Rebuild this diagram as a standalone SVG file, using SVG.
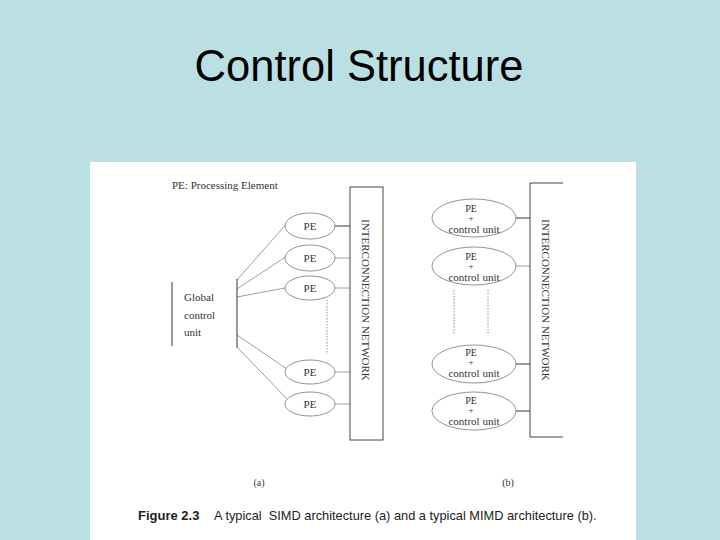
<svg xmlns="http://www.w3.org/2000/svg" width="720" height="540" viewBox="0 0 720 540">
<style>
.serif{font-family:"Liberation Serif","DejaVu Serif",serif;fill:#333}
.sm{font-size:11px}
.pe{fill:#fff;stroke:#777;stroke-width:0.8}
.ln{stroke:#888;stroke-width:0.8;fill:none}
.dk{stroke:#333;stroke-width:1;fill:none}
.dot{stroke:#777;stroke-width:0.8;stroke-dasharray:1.5 1.5;fill:none}
.pb{font-size:11px;text-anchor:middle}
.p1{font-size:10px;text-anchor:middle}
.pl{font-size:9px;text-anchor:middle}
</style>
<rect width="720" height="540" fill="#BBE0E3"/>
<text x="359" y="81" text-anchor="middle" font-family="Liberation Sans, Arial, sans-serif" font-size="43.5" fill="#000">Control Structure</text>
<rect x="90" y="162" width="546" height="378" fill="#fff"/>

<g id="connectors">
  <line class="dk" x1="335" y1="226" x2="350" y2="226"/>
  <line class="ln" x1="335" y1="258" x2="350" y2="258"/>
  <line class="ln" x1="335" y1="288" x2="350" y2="288"/>
  <line class="ln" x1="335" y1="372" x2="350" y2="372"/>
  <line class="ln" x1="335" y1="404" x2="350" y2="404"/>
  <line class="ln" x1="237" y1="280" x2="289" y2="221"/>
  <line class="ln" x1="237" y1="289" x2="287" y2="256"/>
  <line class="ln" x1="237" y1="297" x2="285" y2="288"/>
  <line class="ln" x1="237" y1="335" x2="287" y2="369"/>
  <line class="ln" x1="237" y1="347" x2="289" y2="401"/>
  <line class="dot" x1="327" y1="300" x2="327" y2="354"/>
  <line class="dk" x1="516" y1="218" x2="530" y2="218"/>
  <line class="ln" x1="516" y1="266" x2="530" y2="266"/>
  <line class="dk" x1="516" y1="364" x2="530" y2="364"/>
  <line class="dk" x1="516" y1="411" x2="530" y2="411"/>
  <line class="dot" x1="454" y1="290" x2="454" y2="334"/>
  <line class="dot" x1="488" y1="290" x2="488" y2="334"/>
</g>

<text class="serif sm" x="172" y="189">PE: Processing Element</text>

<g id="global-control">
  <line class="dk" x1="172" y1="282" x2="172" y2="346"/>
  <line class="dk" x1="237" y1="279" x2="237" y2="348"/>
  <text class="serif sm" x="184" y="301">Global</text>
  <text class="serif sm" x="184" y="319">control</text>
  <text class="serif sm" x="184" y="336">unit</text>
</g>

<g id="network-a">
  <rect x="350" y="187" width="33" height="253" fill="#fff" stroke="#444" stroke-width="1"/>
  <text class="serif sm" transform="translate(362,300) rotate(90)" text-anchor="middle" font-size="11.5">INTERCONNECTION NETWORK</text>
</g>

<g id="pe-a1"><ellipse class="pe" cx="310" cy="226" rx="25" ry="13"/><text class="serif sm" x="310" y="230" text-anchor="middle">PE</text></g>
<g id="pe-a2"><ellipse class="pe" cx="310" cy="258" rx="25" ry="13"/><text class="serif sm" x="310" y="262" text-anchor="middle">PE</text></g>
<g id="pe-a3"><ellipse class="pe" cx="310" cy="288" rx="25" ry="12"/><text class="serif sm" x="310" y="292" text-anchor="middle">PE</text></g>
<g id="pe-a4"><ellipse class="pe" cx="310" cy="372" rx="25" ry="12"/><text class="serif sm" x="310" y="376" text-anchor="middle">PE</text></g>
<g id="pe-a5"><ellipse class="pe" cx="310" cy="404" rx="25" ry="12"/><text class="serif sm" x="310" y="408" text-anchor="middle">PE</text></g>

<g id="network-b">
  <polyline points="563,183 530,183 530,437 563,437" fill="none" stroke="#444" stroke-width="1"/>
  <text class="serif sm" transform="translate(542,300) rotate(90)" text-anchor="middle" font-size="11.5">INTERCONNECTION NETWORK</text>
</g>

<g id="pe-b1"><ellipse class="pe" cx="474" cy="218" rx="42" ry="19"/>
  <text class="serif p1" x="471" y="212">PE</text><text class="serif pl" x="471" y="221">+</text><text class="serif pb" x="474" y="233">control unit</text></g>
<g id="pe-b2"><ellipse class="pe" cx="474" cy="266" rx="42" ry="19"/>
  <text class="serif p1" x="471" y="260">PE</text><text class="serif pl" x="471" y="269">+</text><text class="serif pb" x="474" y="281">control unit</text></g>
<g id="pe-b3"><ellipse class="pe" cx="474" cy="364" rx="42" ry="19"/>
  <text class="serif p1" x="471" y="356">PE</text><text class="serif pl" x="471" y="365">+</text><text class="serif pb" x="474" y="377">control unit</text></g>
<g id="pe-b4"><ellipse class="pe" cx="474" cy="411" rx="42" ry="19"/>
  <text class="serif p1" x="471" y="404">PE</text><text class="serif pl" x="471" y="413">+</text><text class="serif pb" x="474" y="425">control unit</text></g>

<text class="serif" font-size="10" x="259" y="486" text-anchor="middle">(a)</text>
<text class="serif" font-size="10" x="508" y="486" text-anchor="middle">(b)</text>
<text x="138" y="520" font-family="Liberation Sans, Arial, sans-serif" font-size="13" fill="#222" font-weight="bold">Figure 2.3</text>
<text x="214" y="520" font-family="Liberation Sans, Arial, sans-serif" font-size="12.8" fill="#222" xml:space="preserve">A typical  SIMD architecture (a) and a typical MIMD architecture (b).</text>
</svg>
